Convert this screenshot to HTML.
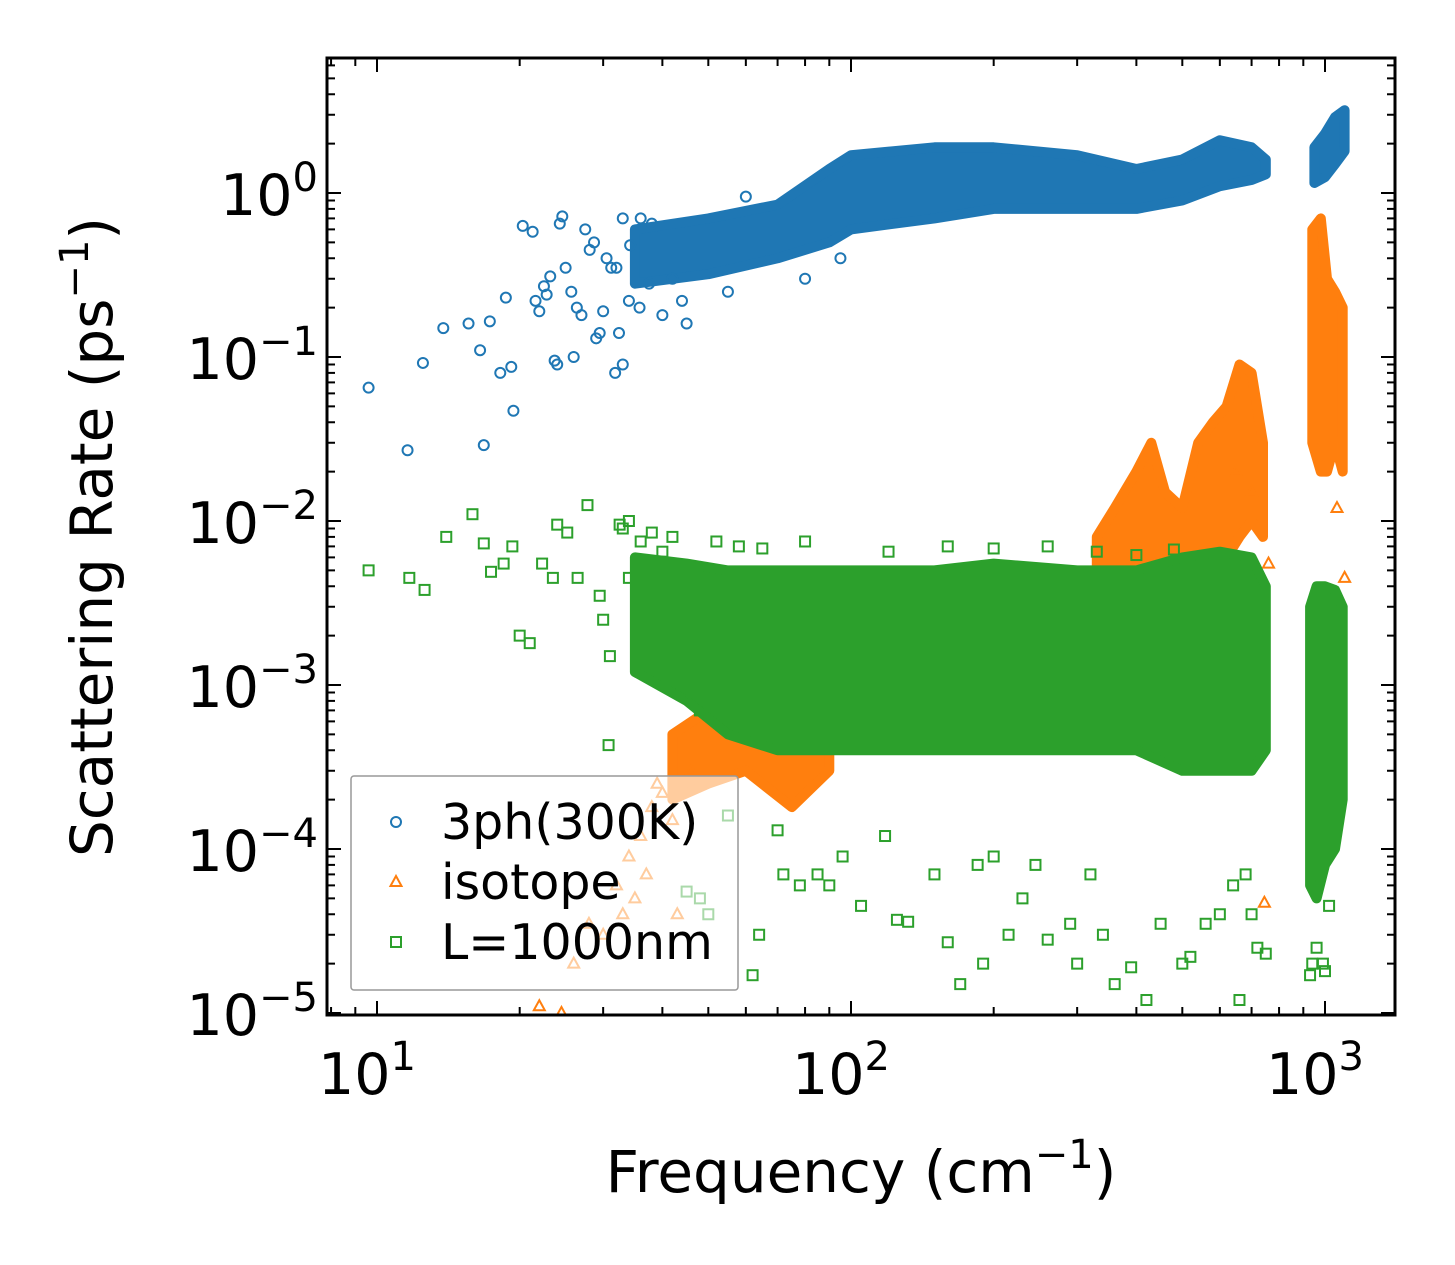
<!DOCTYPE html>
<html><head><meta charset="utf-8">
<style>
html,body{margin:0;padding:0;background:#fff;}
svg{display:block;font-family:"DejaVu Sans","Liberation Sans",sans-serif;}
</style></head>
<body>
<svg id="chart" width="1455" height="1265" viewBox="0 0 1455 1265" xmlns="http://www.w3.org/2000/svg">
<rect width="1455" height="1265" fill="#fff"/>
<g id="plot"></g>
<g id="axes"></g>
<g id="legend"></g>
</svg>
<script>
// ---- data ----
const xTicks = [10, 100, 1000];
const xTickLabels = ["1", "2", "3"];
const yTicks = [1, 0.1, 0.01, 0.001, 0.0001, 0.00001];
const yTickLabels = ["0", "\u22121", "\u22122", "\u22123", "\u22124", "\u22125"];

const blueBandF  = [35, 50, 70, 90, 100, 150, 200, 300, 400, 500, 600, 700, 750];
const blueBandLo = [0.28, 0.32, 0.4, 0.5, 0.6, 0.7, 0.8, 0.8, 0.8, 0.9, 1.1, 1.2, 1.3];
const blueBandHi = [0.6, 0.7, 0.85, 1.4, 1.7, 1.9, 1.9, 1.7, 1.4, 1.6, 2.1, 1.9, 1.6];
const blueBand2F  = [950, 1000, 1050, 1100];
const blueBand2Lo = [1.15, 1.25, 1.5, 1.8];
const blueBand2Hi = [1.9, 2.3, 2.9, 3.2];

const orangeBandF  = [330, 360, 400, 430, 460, 500, 540, 580, 620, 660, 700, 740];
const orangeBandLo = [0.003, 0.003, 0.004, 0.004, 0.004, 0.004, 0.005, 0.005, 0.006, 0.008, 0.01, 0.008];
const orangeBandHi = [0.008, 0.012, 0.02, 0.03, 0.015, 0.012, 0.03, 0.04, 0.05, 0.09, 0.08, 0.03];
const orangeBand2F  = [940, 980, 1010, 1050, 1090];
const orangeBand2Lo = [0.03, 0.02, 0.02, 0.03, 0.02];
const orangeBand2Hi = [0.6, 0.7, 0.3, 0.25, 0.2];
const orangeLowF  = [42, 50, 60, 75, 90];
const orangeLowLo = [0.0002, 0.00025, 0.0003, 0.00018, 0.0003];
const orangeLowHi = [0.0005, 0.0007, 0.0008, 0.0008, 0.0009];

const greenBandF  = [35, 45, 55, 70, 100, 150, 200, 300, 400, 500, 600, 700, 750];
const greenBandLo = [0.0012, 0.0008, 0.0005, 0.0004, 0.0004, 0.0004, 0.0004, 0.0004, 0.0004, 0.0003, 0.0003, 0.0003, 0.0004];
const greenBandHi = [0.006, 0.0055, 0.005, 0.005, 0.005, 0.005, 0.0055, 0.005, 0.005, 0.006, 0.0065, 0.006, 0.004];
const greenBand2F  = [930, 960, 1000, 1050, 1090];
const greenBand2Lo = [0.00006, 0.00005, 0.00008, 0.0001, 0.0002];
const greenBand2Hi = [0.003, 0.004, 0.004, 0.0038, 0.003];

const blueF = [9.6, 11.6, 12.5, 13.8, 15.6, 16.5, 16.8, 17.3, 18.2, 18.7, 19.2, 19.4, 20.3, 21.3, 21.6, 22.0, 22.5, 23.2, 23.7, 24.3, 24.6, 25.0, 25.7, 26.4, 27.0, 27.5, 28.1, 28.7, 29.5, 30.0, 30.5, 31.2, 31.8, 32.4, 33.0, 34.2, 35.8, 37.5, 40.0, 42.0, 45.0, 24.0, 26.0, 22.8, 29.0, 32.0, 36, 38, 44, 55, 60, 80, 95, 33, 34];
const blueV = [0.065, 0.027, 0.092, 0.15, 0.16, 0.11, 0.029, 0.165, 0.08, 0.23, 0.087, 0.047, 0.63, 0.58, 0.22, 0.19, 0.27, 0.31, 0.095, 0.65, 0.72, 0.35, 0.25, 0.2, 0.18, 0.6, 0.45, 0.5, 0.14, 0.19, 0.4, 0.35, 0.08, 0.14, 0.09, 0.48, 0.2, 0.28, 0.18, 0.3, 0.16, 0.09, 0.1, 0.24, 0.13, 0.35, 0.7, 0.65, 0.22, 0.25, 0.95, 0.3, 0.4, 0.7, 0.22];

const orangeF = [22, 24.5, 26, 28, 30, 32, 34, 36, 38, 39, 40, 42, 33, 35, 37, 43, 46, 190, 280, 560, 650, 700, 720, 735, 740, 745, 680, 760, 1100, 1060];
const orangeV = [0.000011, 0.00001, 0.00002, 0.000035, 0.00003, 0.00006, 0.00009, 0.00012, 0.00018, 0.00025, 0.00022, 0.00015, 0.00004, 0.00005, 0.00007, 0.00004, 0.0003, 0.0006, 0.00055, 0.0055, 0.02, 0.015, 0.005, 0.0045, 0.0025, 0.000047, 0.0035, 0.0055, 0.0045, 0.012];

const greenF = [9.6, 11.7, 12.6, 14.0, 15.9, 16.8, 17.4, 18.5, 19.3, 20.0, 21.0, 22.3, 23.5, 24.0, 25.2, 26.5, 27.8, 29.5, 30.8, 32.5, 34.0, 45, 48, 50, 55, 62, 64, 70, 72, 78, 85, 90, 96, 105, 118, 125, 132, 150, 160, 170, 185, 190, 200, 215, 230, 245, 260, 290, 300, 320, 340, 360, 390, 420, 450, 500, 520, 560, 600, 640, 660, 680, 700, 720, 750, 930, 940, 960, 990, 1000, 1020, 33, 34, 36, 38, 40, 42, 30, 31, 44, 48, 52, 58, 65, 80, 120, 160, 200, 260, 330, 400, 480];
const greenV = [0.005, 0.0045, 0.0038, 0.008, 0.011, 0.0073, 0.0049, 0.0055, 0.007, 0.002, 0.0018, 0.0055, 0.0045, 0.0095, 0.0085, 0.0045, 0.0125, 0.0035, 0.00043, 0.0095, 0.0045, 0.000055, 0.00005, 0.00004, 0.00016, 0.000017, 0.00003, 0.00013, 0.00007, 0.00006, 0.00007, 0.00006, 0.00009, 0.000045, 0.00012, 0.000037, 0.000036, 0.00007, 0.000027, 0.000015, 0.00008, 0.00002, 0.00009, 0.00003, 0.00005, 0.00008, 0.000028, 0.000035, 0.00002, 0.00007, 0.00003, 0.000015, 0.000019, 0.000012, 0.000035, 0.00002, 0.000022, 0.000035, 0.00004, 0.00006, 0.000012, 0.00007, 0.00004, 0.000025, 0.000023, 0.000017, 0.00002, 0.000025, 0.00002, 0.000018, 0.000045, 0.009, 0.01, 0.0075, 0.0085, 0.0065, 0.008, 0.0025, 0.0015, 0.0009, 0.0007, 0.0075, 0.007, 0.0068, 0.0075, 0.0065, 0.007, 0.0068, 0.007, 0.0065, 0.0062, 0.0067];

// ---- axes functions ----
const X0 = 327, X1 = 1395, Y0 = 58, Y1 = 1015;
const xs = f => 377 + 474 * Math.log10(f / 10);
const ys = v => 193 - 164 * Math.log10(v);
const NS = "http://www.w3.org/2000/svg";
function mk(tag, attrs, parent) {
  const e = document.createElementNS(NS, tag);
  for (const k in attrs) e.setAttribute(k, attrs[k]);
  parent.appendChild(e);
  return e;
}
const plot = document.getElementById('plot');
const axes = document.getElementById('axes');
const legend = document.getElementById('legend');
const C = {blue: "#1f77b4", orange: "#ff7f0e", green: "#2ca02c"};

const cp = mk('clipPath', {id: 'clip'}, plot);
mk('rect', {x: X0, y: Y0, width: X1 - X0, height: Y1 - Y0}, cp);
const pg = mk('g', {'clip-path': 'url(#clip)'}, plot);

function band(F, Lo, Hi, color, name) {
  let pts = [];
  for (let i = 0; i < F.length; i++) pts.push(xs(F[i]).toFixed(1) + ',' + ys(Hi[i]).toFixed(1));
  for (let i = F.length - 1; i >= 0; i--) pts.push(xs(F[i]).toFixed(1) + ',' + ys(Lo[i]).toFixed(1));
  const p = mk('polygon', {points: pts.join(' '), fill: color, stroke: color, 'stroke-width': 10, 'stroke-linejoin': 'round'}, pg);
  
  
}
function circ(x, y, c, g) { return mk('circle', {cx: x, cy: y, r: 5, fill: 'none', stroke: c, 'stroke-width': 2}, g); }
function tri(x, y, c, g) { return mk('polygon', {points: `${x},${y-6} ${x-5.5},${y+4} ${x+5.5},${y+4}`, fill: 'none', stroke: c, 'stroke-width': 2}, g); }
function sq(x, y, c, g) { return mk('rect', {x: x-5, y: y-5, width: 10, height: 10, fill: 'none', stroke: c, 'stroke-width': 2}, g); }
function points(F, V, fn, c, name) {
  for (let i = 0; i < F.length; i++) {
    const m = fn(xs(F[i]), ys(V[i]), c, pg);
    
    
  }
}

band(blueBandF, blueBandLo, blueBandHi, C.blue, 'blue-dense-band');
band(blueBand2F, blueBand2Lo, blueBand2Hi, C.blue, 'blue-high-freq-band');
points(blueF, blueV, circ, C.blue, 'blue-point');
band(orangeBandF, orangeBandLo, orangeBandHi, C.orange, 'orange-dense-band');
band(orangeBand2F, orangeBand2Lo, orangeBand2Hi, C.orange, 'orange-high-freq-band');
band(orangeLowF, orangeLowLo, orangeLowHi, C.orange, 'orange-low-freq-band');
points(orangeF, orangeV, tri, C.orange, 'orange-point');
band(greenBandF, greenBandLo, greenBandHi, C.green, 'green-dense-band');
band(greenBand2F, greenBand2Lo, greenBand2Hi, C.green, 'green-high-freq-band');
points(greenF, greenV, sq, C.green, 'green-point');

const fr = mk('rect', {x: X0, y: Y0, width: X1 - X0, height: Y1 - Y0, fill: 'none', stroke: '#000', 'stroke-width': 3}, axes);



function tickX(f, len) {
  const x = xs(f);
  if (x < X0 || x > X1) return;
  mk('line', {x1: x, y1: Y1, x2: x, y2: Y1 - len, stroke: '#000', 'stroke-width': 2}, axes);
  mk('line', {x1: x, y1: Y0, x2: x, y2: Y0 + len, stroke: '#000', 'stroke-width': 2}, axes);
}
function tickY(v, len) {
  const y = ys(v);
  if (y < Y0 || y > Y1 + 1) return;
  mk('line', {x1: X0, y1: y, x2: X0 + len, y2: y, stroke: '#000', 'stroke-width': 2}, axes);
  mk('line', {x1: X1, y1: y, x2: X1 - len, y2: y, stroke: '#000', 'stroke-width': 2}, axes);
}
for (let d = 1; d <= 1000; d *= 10) for (let m = 1; m <= 9; m++) tickX(d * m, m === 1 ? 14 : 8);
for (let d = 1e-5; d <= 10; d *= 10) for (let m = 1; m <= 9; m++) tickY(d * m, m === 1 ? 14 : 8);

for (let i = 0; i < xTicks.length; i++) {
  const t = mk('text', {x: xs(xTicks[i]) - 10, y: 1094, 'font-size': 57, 'text-anchor': 'middle'}, axes);
  
  
  t.innerHTML = '10<tspan dy="-24" font-size="40">' + xTickLabels[i] + '</tspan>';
}
for (let i = 0; i < yTicks.length; i++) {
  const t = mk('text', {x: 318, y: ys(yTicks[i]) + 22, 'font-size': 57, 'text-anchor': 'end'}, axes);
  
  
  t.innerHTML = '10<tspan dy="-24" font-size="40">' + yTickLabels[i] + '</tspan>';
}

const xt = mk('text', {x: 861, y: 1192, 'font-size': 58, 'text-anchor': 'middle'}, axes);


xt.innerHTML = 'Frequency (cm<tspan dy="-24" font-size="40">\u22121</tspan><tspan dy="24">)</tspan>';
const yt = mk('text', {x: 0, y: 0, 'font-size': 58, 'text-anchor': 'middle', transform: 'translate(112,537) rotate(-90)'}, axes);


yt.innerHTML = 'Scattering Rate (ps<tspan dy="-24" font-size="40">\u22121</tspan><tspan dy="24">)</tspan>';

const lb = mk('rect', {x: 351, y: 776, width: 387, height: 214, fill: 'rgba(255,255,255,0.6)', stroke: '#999', 'stroke-width': 1.5, rx: 3}, legend);


const entries = [['3ph(300K)', circ, C.blue, 822], ['isotope', tri, C.orange, 882], ['L=1000nm', sq, C.green, 942]];
entries.forEach(e => {
  const g = mk('g', {}, legend);
  
  
  e[1](396, e[3], e[2], g);
  const t = mk('text', {x: 441, y: e[3] + 17, 'font-size': 49}, g);
  t.textContent = e[0];
});
</script>
</body></html>
